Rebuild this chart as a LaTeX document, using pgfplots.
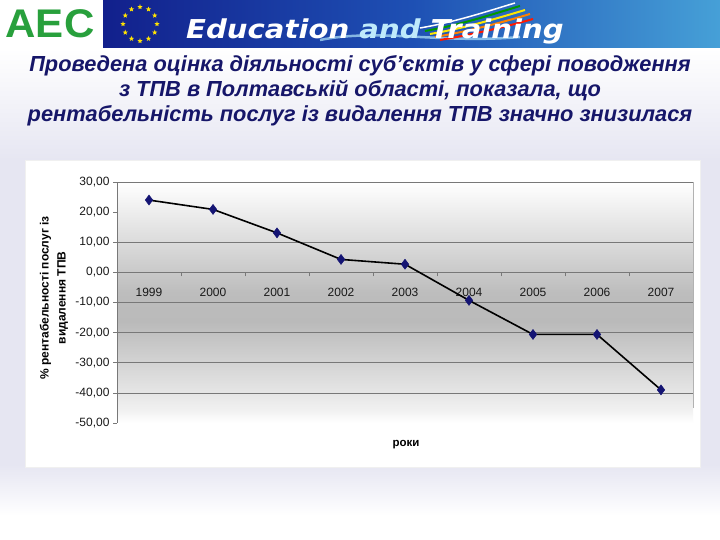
\documentclass[border=0pt]{standalone}
\usepackage{pgfplots}
\pgfplotsset{compat=1.18}
\usepackage{fontspec}
\setmainfont{Liberation Sans}
\newfontfamily\dejavu{DejaVu Sans}
\usetikzlibrary{shapes.geometric}
\definecolor{lav}{RGB}{230,230,242}
\definecolor{bannerL}{RGB}{18,32,140}
\definecolor{bannerM}{RGB}{30,80,180}
\definecolor{bannerR}{RGB}{70,160,215}
\definecolor{titlecol}{RGB}{22,22,105}
\definecolor{mk}{RGB}{20,20,115}
\definecolor{logogreen}{RGB}{40,160,60}
\definecolor{axgray}{RGB}{120,120,120}
\pgfdeclareverticalshading{plotbg}{100bp}{color(0bp)=(white); color(25bp)=(white); color(28bp)=(black!6); color(46bp)=(black!27); color(52bp)=(black!26); color(75bp)=(white); color(100bp)=(white)}
\begin{document}
\begin{tikzpicture}[x=1pt,y=1pt]
% slide background
\fill[white] (0,0) rectangle (720,540);
\shade[top color=white, bottom color=lav] (0,492) rectangle (720,380);
\fill[lav] (0,380) rectangle (720,75);
\shade[top color=lav, bottom color=white] (0,75) rectangle (720,25);
% header
\fill[white] (0,490) rectangle (103,540);
\shade[left color=bannerL, right color=bannerR, middle color=bannerM] (103,492) rectangle (720,540);
\foreach \a in {0,30,...,330}
  \node[star, star points=5, star point ratio=2.3, fill=yellow!85!orange, inner sep=0pt, minimum size=5.5pt]
    at ({140+17*cos(\a)},{516+17*sin(\a)}) {};
% swoosh
\draw[white!70!cyan, line width=2.5pt, opacity=0.7] (320,500) .. controls (380,512) and (440,496) .. (520,503);
\draw[white, line width=1.5pt] (420,512) .. controls (455,518) and (485,528) .. (515,537);
\draw[green!60!black, line width=2pt] (425,509) .. controls (460,515) and (490,525) .. (520,534);
\draw[yellow!90!orange, line width=2pt] (430,506) .. controls (465,512) and (495,521) .. (525,530);
\draw[orange, line width=2pt] (435,503) .. controls (470,509) and (500,517) .. (530,526);
\draw[red!80!orange, line width=2pt] (440,500) .. controls (475,506) and (505,513) .. (533,521);
\node[anchor=west, font=\dejavu\fontsize{26}{28}\selectfont\bfseries\itshape, text=white, inner sep=0pt, xscale=1.12] at (186,509)
  {Education \textcolor{cyan!25!white}{and} Training};
% logo
\node[font=\fontsize{40}{40}\selectfont\bfseries, text=logogreen, inner sep=0pt, xscale=1.05] at (50,516) {AEC};
% title
\node[font=\fontsize{21.8}{24}\selectfont\bfseries\itshape, text=titlecol] at (360,474)
  {Проведена оцінка діяльності суб’єктів у сфері поводження};
\node[font=\fontsize{21.8}{24}\selectfont\bfseries\itshape, text=titlecol] at (360,449)
  {з ТПВ в Полтавській області, показала, що};
\node[font=\fontsize{21.8}{24}\selectfont\bfseries\itshape, text=titlecol] at (360,424)
  {рентабельність послуг із видалення ТПВ значно знизилася};
% chart area
\fill[white] (25,73) rectangle (700,380);
\draw[black!6] (25,73) rectangle (700,380);
% y label
\node[rotate=90, align=center, font=\fontsize{12}{17}\selectfont\bfseries] at (54,242)
  {\% рентабельності послуг із\\видалення ТПВ};
\node[font=\fontsize{11.5}{13}\selectfont\bfseries] at (406,95) {роки};
\begin{axis}[
  at={(117pt,117pt)}, anchor=south west,
  scale only axis, width=576pt, height=241pt,
  xmin=-0.5, xmax=8.5, ymin=-50, ymax=30,
  axis background/.style={shading=plotbg},
  axis x line=middle, axis y line=left,
  axis line style={-, draw=axgray, line width=0.7pt},
  xtick={0,...,8}, xticklabels={1999,2000,2001,2002,2003,2004,2005,2006,2007},
  minor x tick num=1,
  major x tick style={draw=none},
  minor x tick style={draw=axgray, line width=0.7pt},
  y tick style={draw=axgray, line width=0.7pt},
  tick align=outside, major tick length=4pt, minor tick length=4pt,
  ytick={-50,-40,...,30},
  /pgf/number format/assume math mode=true,
  yticklabel style={/pgf/number format/fixed, /pgf/number format/fixed zerofill,
    /pgf/number format/precision=2, /pgf/number format/use comma},
  tick label style={font=\fontsize{12}{13}\selectfont, text=black!90},
  xticklabel style={yshift=-8pt},
  clip=false,
]
\pgfplotsinvokeforeach{-40,-30,-20,-10,10}{
  \draw[axgray, line width=0.7pt] (axis cs:-0.5,#1) -- (axis cs:8.5,#1);
}
\draw[axgray, line width=0.7pt] (axis cs:-0.5,30) -- (axis cs:8.5,30);
\draw[black!30, line width=0.7pt] (axis cs:8.5,30) -- (axis cs:8.5,-45);
\addplot[black, line width=1.6pt, mark=diamond*, mark size=5pt,
  mark options={fill=mk, draw=mk, line width=0.5pt}]
  coordinates {(0,24.0) (1,20.9) (2,13.1) (3,4.3) (4,2.7) (5,-9.3) (6,-20.6) (7,-20.6) (8,-39.0)};
\end{axis}
\end{tikzpicture}
\end{document}
